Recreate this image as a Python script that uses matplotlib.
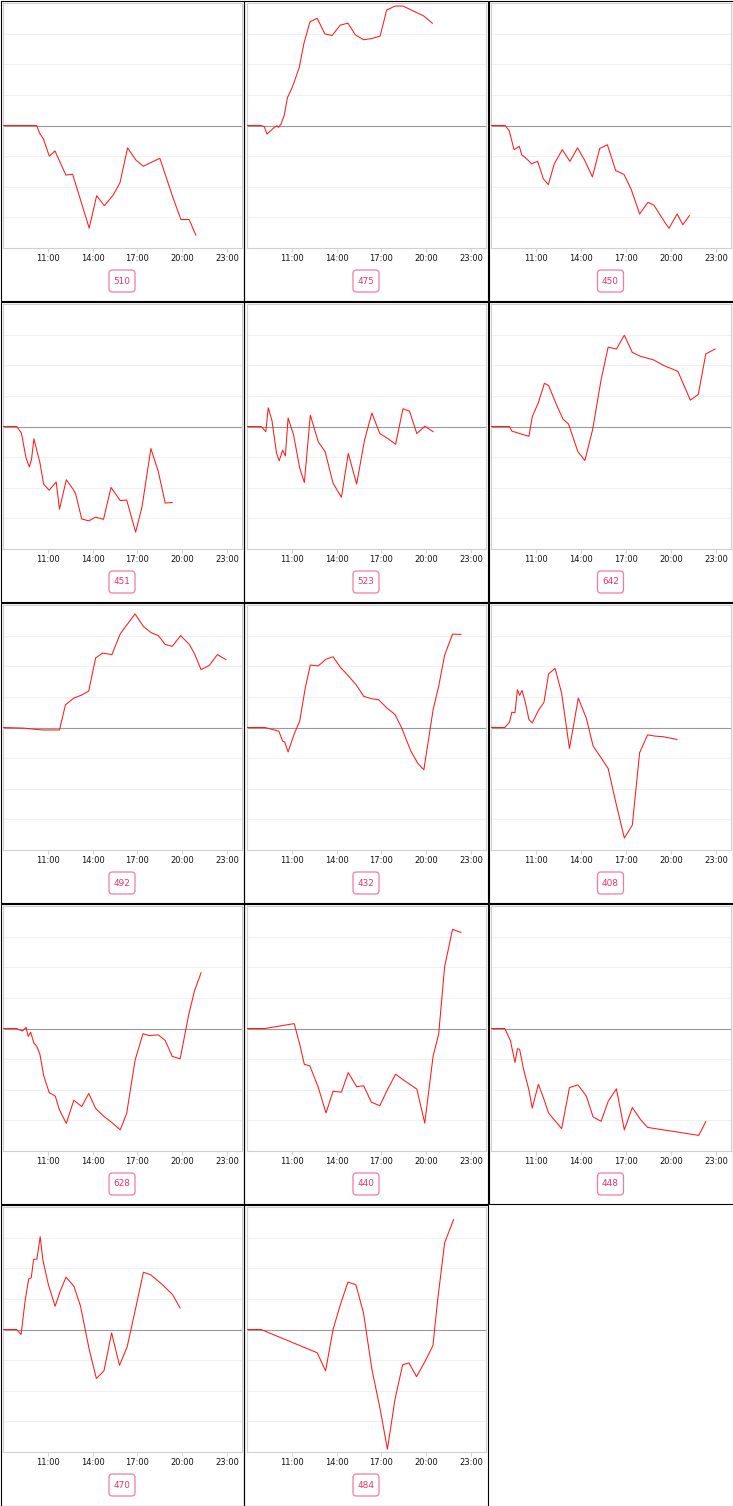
import matplotlib
matplotlib.use("Agg")
import matplotlib.pyplot as plt
from matplotlib.patches import Rectangle, FancyBboxPatch

plt.rcParams['font.family'] = ['DejaVu Sans']

# ---- data (hours of day, value in grid units) ----
labels = ["510", "475", "450", "451", "523", "642", "492", "432", "408",
          "628", "440", "448", "470", "484"]

hours_510 = [8.0, 10.25, 10.47, 10.70, 11.10, 11.48, 12.21, 12.66, 13.77, 14.27, 14.78,
             15.38, 15.83, 16.34, 16.90, 17.39, 18.50, 19.39, 19.91, 20.46, 20.91]
vals_510 = [0, 0, -0.27, -0.43, -1.0, -0.83, -1.62, -1.59, -3.35, -2.29, -2.62,
            -2.27, -1.87, -0.73, -1.13, -1.33, -1.07, -2.37, -3.07, -3.07, -3.58]

hours_475 = [8.0, 8.94, 9.16, 9.34, 9.83, 10.00, 10.11, 10.27, 10.49, 10.71, 11.04, 11.49,
             11.82, 12.22, 12.70, 13.21, 13.70, 14.25, 14.76, 15.25, 15.80, 16.36, 16.91,
             17.35, 17.91, 18.46, 19.12, 19.79, 20.41]
vals_475 = [0, 0, -0.04, -0.28, -0.06, -0.01, -0.06, 0.04, 0.33, 0.91, 1.26, 1.88,
            2.70, 3.39, 3.50, 2.99, 2.94, 3.28, 3.34, 2.96, 2.80, 2.84, 2.92,
            3.77, 3.90, 3.90, 3.74, 3.59, 3.34]

hours_450 = [8.0, 8.94, 9.21, 9.54, 9.89, 10.05, 10.27, 10.71, 11.11, 11.49, 11.82, 12.22,
             12.75, 13.26, 13.77, 14.25, 14.76, 15.25, 15.76, 16.31, 16.87, 17.35, 17.91,
             18.46, 18.86, 19.35, 19.86, 20.41, 20.79, 21.23]
vals_450 = [0, 0, -0.17, -0.79, -0.68, -0.96, -1.04, -1.25, -1.17, -1.74, -1.93, -1.25,
            -0.79, -1.17, -0.73, -1.14, -1.68, -0.75, -0.63, -1.47, -1.60, -2.09, -2.89,
            -2.51, -2.60, -2.98, -3.36, -2.89, -3.24, -2.94]

hours_451 = [8.0, 8.92, 9.23, 9.54, 9.76, 9.91, 10.07, 10.47, 10.72, 11.09, 11.56, 11.78,
             12.24, 12.71, 12.87, 13.27, 13.74, 14.20, 14.73, 15.23, 15.85, 16.28, 16.88,
             17.31, 17.90, 18.40, 18.86, 19.33]
vals_451 = [0, 0, -0.21, -1.02, -1.32, -1.07, -0.40, -1.18, -1.88, -2.08, -1.81, -2.70,
            -1.74, -2.06, -2.21, -3.02, -3.08, -2.96, -3.03, -1.99, -2.42, -2.40, -3.45,
            -2.61, -0.72, -1.48, -2.50, -2.48]

hours_523 = [8.0, 8.95, 9.26, 9.42, 9.67, 9.98, 10.16, 10.38, 10.57, 10.75, 11.12, 11.53,
             11.84, 12.24, 12.77, 13.23, 13.76, 14.32, 14.78, 15.34, 15.87, 16.36, 16.89,
             17.42, 17.95, 18.44, 18.88, 19.37, 19.90, 20.46]
vals_523 = [0, 0, -0.17, 0.61, 0.20, -0.88, -1.12, -0.77, -0.96, 0.28, -0.28, -1.36,
            -1.83, 0.37, -0.50, -0.82, -1.85, -2.31, -0.88, -1.88, -0.44, 0.44, -0.23,
            -0.39, -0.58, 0.58, 0.50, -0.23, 0.01, -0.17]

hours_642 = [8.0, 9.23, 9.39, 9.91, 10.53, 10.75, 11.16, 11.56, 11.84, 12.40, 12.80, 13.17,
             13.79, 14.26, 14.78, 15.34, 15.81, 16.36, 16.89, 17.42, 17.98, 18.81, 19.53,
             20.46, 21.29, 21.82, 22.32, 22.94]
vals_642 = [0, 0, -0.15, -0.23, -0.32, 0.32, 0.78, 1.41, 1.34, 0.67, 0.24, 0.08,
            -0.82, -1.11, -0.09, 1.53, 2.59, 2.53, 2.98, 2.42, 2.29, 2.18, 1.99,
            1.80, 0.86, 1.05, 2.37, 2.53]

hours_492 = [8.0, 9.38, 10.63, 11.78, 12.18, 12.74, 13.27, 13.74, 14.20, 14.67, 15.29,
             15.85, 16.84, 17.40, 17.93, 18.40, 18.86, 19.33, 19.89, 20.48, 20.82, 21.26,
             21.82, 22.35, 22.91]
vals_492 = [0, -0.02, -0.08, -0.08, 0.74, 0.96, 1.06, 1.19, 2.27, 2.43, 2.38,
            3.06, 3.71, 3.30, 3.09, 3.00, 2.71, 2.65, 3.00, 2.71, 2.41, 1.89,
            2.03, 2.38, 2.22]

hours_432 = [8.0, 9.20, 9.67, 10.13, 10.38, 10.53, 10.75, 11.16, 11.53, 11.90, 12.24,
             12.77, 13.29, 13.76, 14.26, 14.78, 15.31, 15.81, 16.33, 16.80, 17.36, 17.91,
             18.35, 18.97, 19.43, 19.84, 20.46, 20.83, 21.23, 21.76, 22.32]
vals_432 = [0, 0, -0.06, -0.12, -0.44, -0.48, -0.80, -0.21, 0.21, 1.29, 2.04,
            2.01, 2.23, 2.31, 1.96, 1.69, 1.39, 1.02, 0.94, 0.91, 0.64, 0.42,
            -0.01, -0.77, -1.17, -1.38, 0.58, 1.34, 2.36, 3.05, 3.04]

hours_408 = [8.0, 8.92, 9.23, 9.39, 9.60, 9.76, 9.91, 10.07, 10.29, 10.53, 10.75, 11.16,
             11.53, 11.84, 12.27, 12.71, 13.23, 13.82, 14.35, 14.81, 15.34, 15.81, 16.27,
             16.89, 17.42, 17.91, 18.44, 18.91, 19.47, 20.40]
vals_408 = [0, 0, 0.17, 0.50, 0.48, 1.23, 1.05, 1.21, 0.82, 0.26, 0.15, 0.56,
            0.82, 1.75, 1.93, 1.12, -0.69, 0.96, 0.31, -0.61, -0.99, -1.34, -2.34,
            -3.61, -3.19, -0.82, -0.24, -0.28, -0.30, -0.39]

hours_628 = [8.0, 8.92, 9.07, 9.32, 9.54, 9.69, 9.85, 10.07, 10.25, 10.47, 10.72, 11.09,
             11.50, 11.78, 12.24, 12.74, 13.27, 13.74, 14.20, 14.73, 15.29, 15.85, 16.28,
             16.84, 17.37, 17.78, 18.40, 18.86, 19.33, 19.86, 20.42, 20.82, 21.26]
vals_628 = [0, 0, -0.04, -0.08, 0.04, -0.26, -0.12, -0.48, -0.57, -0.84, -1.53, -2.09,
            -2.21, -2.66, -3.10, -2.34, -2.55, -2.12, -2.61, -2.86, -3.07, -3.31, -2.77,
            -1.04, -0.17, -0.23, -0.21, -0.39, -0.91, -0.99, 0.42, 1.23, 1.82]

hours_440 = [8.0, 9.20, 11.16, 11.53, 11.84, 12.21, 12.77, 13.29, 13.76, 14.32, 14.78,
             15.34, 15.81, 16.33, 16.89, 17.42, 17.95, 18.44, 19.37, 19.90, 20.46, 20.83,
             21.23, 21.76, 22.32]
vals_440 = [0, 0, 0.16, -0.52, -1.17, -1.22, -1.92, -2.76, -2.05, -2.08, -1.44,
            -1.90, -1.87, -2.41, -2.52, -1.98, -1.49, -1.67, -1.98, -3.09, -0.90, -0.19,
            2.02, 3.24, 3.14]

hours_448 = [8.0, 8.92, 9.29, 9.60, 9.76, 9.91, 10.16, 10.53, 10.75, 11.16, 11.53, 11.84,
             12.71, 13.23, 13.79, 14.35, 14.81, 15.34, 15.81, 16.36, 16.89, 17.42, 17.98,
             18.44, 20.15, 21.85, 22.32]
vals_448 = [0, 0, -0.39, -1.11, -0.66, -0.68, -1.31, -2.01, -2.60, -1.82, -2.31, -2.76,
            -3.27, -1.93, -1.84, -2.20, -2.89, -3.03, -2.38, -1.97, -3.31, -2.58, -2.98,
            -3.23, -3.36, -3.49, -3.04]

hours_470 = [8.0, 8.90, 9.21, 9.49, 9.72, 9.89, 10.05, 10.27, 10.49, 10.67, 11.04, 11.49,
             11.82, 12.22, 12.75, 13.19, 13.77, 14.25, 14.76, 15.27, 15.80, 16.31, 16.91,
             17.40, 17.91, 18.68, 19.35, 19.86]
vals_470 = [0, 0, -0.16, 0.97, 1.65, 1.69, 2.29, 2.30, 3.03, 2.27, 1.46, 0.76,
            1.24, 1.71, 1.41, 0.76, -0.65, -1.60, -1.35, -0.11, -1.17, -0.57, 0.76,
            1.87, 1.78, 1.46, 1.14, 0.70]

hours_484 = [8.0, 8.94, 12.70, 13.26, 13.77, 14.25, 14.76, 15.29, 15.80, 16.36, 16.91,
             17.40, 17.91, 18.42, 18.84, 19.35, 19.90, 20.45, 20.74, 21.23, 21.83]
vals_484 = [0, 0, -0.76, -1.35, 0.02, 0.81, 1.55, 1.46, 0.54, -1.30, -2.59,
            -3.91, -2.27, -1.15, -1.09, -1.54, -1.06, -0.52, 0.86, 2.83, 3.59]

tick_hours = [11, 14, 17, 20, 23]
tick_labels = ["11:00", "14:00", "17:00", "20:00", "23:00"]
grid_levels = [-3, -2, -1, 1, 2, 3]

series = [
    (hours_510, vals_510), (hours_475, vals_475), (hours_450, vals_450),
    (hours_451, vals_451), (hours_523, vals_523), (hours_642, vals_642),
    (hours_492, vals_492), (hours_432, vals_432), (hours_408, vals_408),
    (hours_628, vals_628), (hours_440, vals_440), (hours_448, vals_448),
    (hours_470, vals_470), (hours_484, vals_484),
]

# ---- layout (pixels) ----
W, H = 733, 1506
fig = plt.figure(figsize=(W / 100, H / 100), dpi=100)
col_x = [0, 244, 488]
col_w = [244, 244, 245]
row_y = [0, 301, 602, 903, 1204]
row_h = [301, 301, 301, 301, 302]

RED = "#ff1a1a"
LABEL_TXT = "#e8336b"
LABEL_EDGE = "#f27ba0"

for i, (label, (hx, vy)) in enumerate(zip(labels, series)):
    r, c = divmod(i, 3)
    x0, y0 = col_x[c], row_y[r]
    pw, ph = col_w[c], row_h[r]

    # panel border
    fig.patches.append(Rectangle(((x0 + 0.5) / 100, (H - y0 - ph + 0.5) / 100),
                                 (pw - 1.0) / 100, (ph - 1.0) / 100,
                                 transform=fig.dpi_scale_trans, fill=False,
                                 edgecolor="black", linewidth=0.8, zorder=5))

    # plot area
    left, top = x0 + 3, y0 + 3
    aw, ah = pw - 5, 245
    ax = fig.add_axes([left / W, (H - top - ah) / H, aw / W, ah / H])
    ax.set_xlim(8, 24)
    ax.set_ylim(-4, 4)
    for g in grid_levels:
        ax.axhline(g, color="#f0f0f0", linewidth=0.8, zorder=1)
    ax.axhline(0, color="#999999", linewidth=0.8, zorder=2)
    ax.plot(hx, vy, color=RED, linewidth=0.75, zorder=3)
    ax.set_xticks(tick_hours)
    ax.set_xticklabels(tick_labels)
    ax.set_yticks([])
    ax.tick_params(axis="x", length=3, width=0.6, color="#cccccc", pad=1.5,
                   labelsize=6.0, labelcolor="#111111")
    for s in ax.spines.values():
        s.set_color("#d0d0d0")
        s.set_linewidth(0.8)

    # label box
    cx, cy = x0 + pw / 2, y0 + 281
    bw, bh = 26, 22
    fig.patches.append(FancyBboxPatch(((cx - bw / 2) / 100, (H - cy - bh / 2) / 100),
                                      bw / 100, bh / 100,
                                      boxstyle="round,pad=0,rounding_size=0.035",
                                      transform=fig.dpi_scale_trans,
                                      facecolor="white", edgecolor=LABEL_EDGE,
                                      linewidth=0.9, zorder=4))
    fig.text(cx / W, (H - cy) / H, label, ha="center", va="center",
             fontsize=6.4, color=LABEL_TXT, zorder=6)

fig.savefig("out.png", dpi=100)
